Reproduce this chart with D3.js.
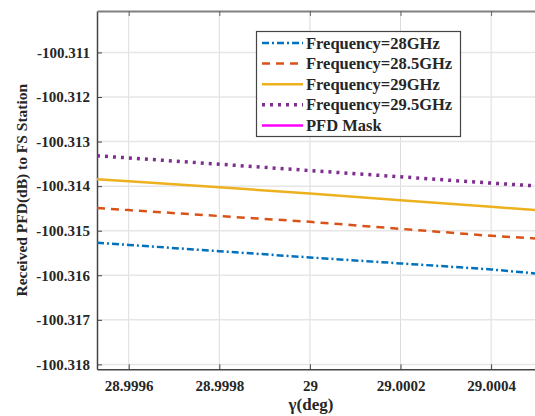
<!DOCTYPE html>
<html>
<head>
<meta charset="utf-8">
<script src="https://cdn.jsdelivr.net/npm/d3@7"></script>
<style>
  body { margin: 0; background: #fff; }
  svg { display: block; }
  text { font-family: "Liberation Serif", "DejaVu Serif", serif; font-weight: bold; fill: #262626; }
</style>
</head>
<body>
<script>
// gamma (deg) sample positions
var gamma = [28.99953, 28.9996, 28.9998, 29, 29.0002, 29.0004, 29.0005];
// received PFD (dB) per frequency
var f28 = [-100.315272, -100.315319, -100.315460, -100.315600, -100.315734, -100.315869, -100.315961];
var f285 = [-100.314493, -100.314538, -100.314671, -100.314801, -100.314958, -100.315115, -100.315175];
var f29 = [-100.313843, -100.313890, -100.314027, -100.314164, -100.314314, -100.314464, -100.314540];
var f295 = [-100.313320, -100.313367, -100.313508, -100.313650, -100.313791, -100.313932, -100.313995];
var xTicks = [28.9996, 28.9998, 29, 29.0002, 29.0004];
var yTicks = [-100.311, -100.312, -100.313, -100.314, -100.315, -100.316, -100.317, -100.318];
var legendNames = ['Frequency=28GHz', 'Frequency=28.5GHz', 'Frequency=29GHz', 'Frequency=29.5GHz', 'PFD Mask'];

var series = [
  { name: legendNames[0], values: f28, color: '#0072BD', dash: '7,3,2,3' },
  { name: legendNames[1], values: f285, color: '#D95319', dash: '8,6' },
  { name: legendNames[2], values: f29, color: '#EDB120', dash: null },
  { name: legendNames[3], values: f295, color: '#7E2F8E', dash: '3,5' },
  { name: legendNames[4], values: [], color: '#FF00FF', dash: null }
];

var width = 535, height = 416;
var pLeft = 97, pTop = 11, pRight = 536.4, pBottom = 369.3;

var svg = d3.select('body').append('svg').attr('width', width).attr('height', height);

var x = d3.scaleLinear().domain([28.99953, 29.0005]).range([pLeft, pRight]);
var y = d3.scaleLinear().domain([-100.31811, -100.31007]).range([pBottom, pTop]);

svg.append('defs').append('clipPath').attr('id', 'plot')
  .append('rect').attr('x', pLeft).attr('y', pTop).attr('width', pRight - pLeft).attr('height', pBottom - pTop);

// grid
svg.append('g').selectAll('line').data(xTicks).enter().append('line')
  .attr('x1', d => x(d)).attr('x2', d => x(d)).attr('y1', pTop).attr('y2', pBottom)
  .attr('stroke', '#dcdcdc').attr('stroke-width', 1);
svg.append('g').selectAll('line').data(yTicks).enter().append('line')
  .attr('x1', pLeft).attr('x2', pRight).attr('y1', d => y(d)).attr('y2', d => y(d))
  .attr('stroke', '#e6e6e6').attr('stroke-width', 1.5);

// axes
var xAxis = svg.append('g').attr('transform', 'translate(0,' + pBottom + ')')
  .call(d3.axisBottom(x).tickValues(xTicks).tickFormat(d => d3.format('.4~f')(d)).tickSizeInner(-5).tickSizeOuter(0).tickPadding(11));
var yAxis = svg.append('g').attr('transform', 'translate(' + pLeft + ',0)')
  .call(d3.axisLeft(y).tickValues(yTicks).tickFormat(d => d3.format('.3f')(d).replace('\u2212', '-')).tickSizeInner(-5).tickSizeOuter(0).tickPadding(7));
var xTop = svg.append('g').attr('transform', 'translate(0,' + pTop + ')')
  .call(d3.axisTop(x).tickValues(xTicks).tickFormat('').tickSizeInner(-5).tickSizeOuter(0));

[xAxis, yAxis].forEach(function (g) {
  g.selectAll('text').style('font-size', '15px').attr('fill', '#262626');
  g.selectAll('line').attr('stroke', '#444');
  g.select('.domain').attr('stroke', '#444').attr('stroke-width', 1.5);
});
xTop.selectAll('line').attr('stroke', '#666');
xTop.select('.domain').attr('stroke', '#808080').attr('stroke-width', 2);

// lines
var line = d3.line().x((d, i) => x(gamma[i])).y(d => y(d));
svg.append('g').attr('clip-path', 'url(#plot)').selectAll('path')
  .data(series.filter(s => s.values.length)).enter().append('path')
  .attr('d', s => line(s.values))
  .attr('fill', 'none')
  .attr('stroke', s => s.color)
  .attr('stroke-width', s => s.dash === '3,5' ? 3.5 : 2.5)
  .attr('stroke-dasharray', s => s.dash);

// axis titles
svg.append('text').attr('x', 311).attr('y', 410).attr('text-anchor', 'middle')
  .style('font-size', '17px').text('\u03b3(deg)');
svg.append('text').attr('transform', 'translate(27,' + ((pTop + pBottom) / 2) + ') rotate(-90)')
  .attr('text-anchor', 'middle').style('font-size', '15.5px').text('Received PFD(dB) to FS Station');

// legend
var lg = svg.append('g');
lg.append('rect').attr('x', 256.5).attr('y', 31.5).attr('width', 204).attr('height', 105)
  .attr('fill', '#fff').attr('stroke', '#444').attr('stroke-width', 1.2);
var rows = lg.selectAll('g.row').data(series).enter().append('g')
  .attr('transform', (d, i) => 'translate(0,' + (43 + i * 20.6) + ')');
rows.append('line').attr('x1', 262).attr('x2', 303).attr('y1', 0).attr('y2', 0)
  .attr('stroke', d => d.color).attr('stroke-width', d => d.dash === '3,5' ? 3.5 : 2.5)
  .attr('stroke-dasharray', d => d.dash);
rows.append('text').attr('x', 306).attr('y', 5.5).style('font-size', '16.5px').text(d => d.name);
</script>
</body>
</html>
